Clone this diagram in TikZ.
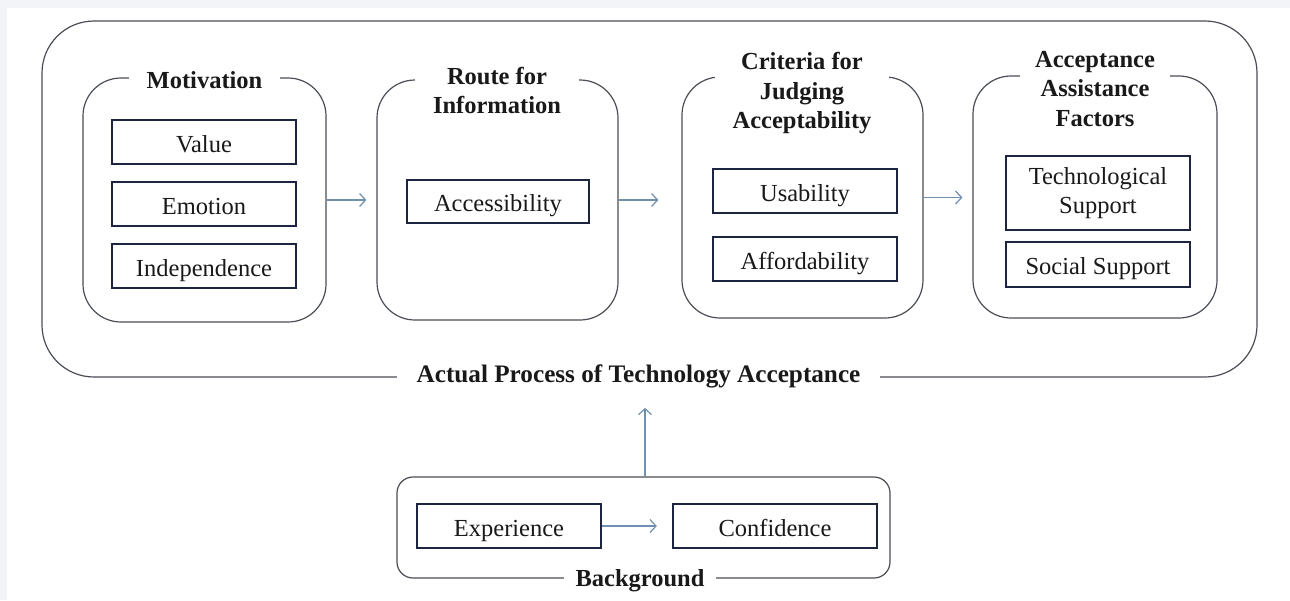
\documentclass[tikz,border=0pt]{standalone}
\usepackage{fontspec}
\setmainfont{Liberation Serif}
\usetikzlibrary{arrows.meta}
\definecolor{groupline}{HTML}{4A4E56}
\definecolor{itemline}{HTML}{1C2440}
\definecolor{flowline}{HTML}{7090B2}
\definecolor{pageedge}{HTML}{F2F4F7}
\newcommand{\diagfont}{\fontsize{24.5pt}{29.5pt}\selectfont}
\begin{document}
\begin{tikzpicture}[x=1pt,y=-1pt,
		every node/.style={font=\diagfont,text=black!90},
		group/.style={draw=groupline,line width=1.2pt,rounded corners=38pt,inner sep=0pt},
		item/.style={draw=itemline,line width=2.4pt,minimum width=184pt,minimum height=44pt,inner sep=0pt},
		oneline/.style={item,text height=24pt,text depth=4pt},
		head/.style={fill=white,font=\diagfont\bfseries,align=center,inner xsep=18pt,inner ysep=0pt},
		flow/.style={draw=flowline,line width=1.2pt,-{Straight Barb[length=6pt,width=13pt,line width=1.2pt]}}]
			\fill[pageedge] (0,0) rectangle (1290,600);
			\fill[white] (7,8) rectangle (1290,600);
			
			\node[group,rounded corners=52pt,minimum width=1215pt,minimum height=356pt] (process) at (649.5,199) {};
			\node[group,minimum width=243pt,minimum height=244pt] (motivation) at (204.5,200) {};
			\node[group,minimum width=241pt,minimum height=240pt] (route) at (497.5,200) {};
			\node[group,minimum width=241pt,minimum height=241pt] (criteria) at (802.5,197.5) {};
			\node[group,minimum width=244pt,minimum height=242pt] (assistance) at (1095,197) {};
			\node[group,rounded corners=16pt,minimum width=493pt,minimum height=101pt] (background) at (643.5,527.5) {};
			
			\node[head,inner xsep=20pt,font=\fontsize{25.2pt}{30pt}\selectfont\bfseries] (processhead) at (638.5,376) {Actual Process of Technology Acceptance};
			\node[head] (motivationhead) at (204.5,80) {Motivation};
			\node[head] (routehead) at (497,90.5) {Route for\\Information};
			\node[head] (criteriahead) at (802,93.5) {Criteria for\\Judging\\Acceptability};
			\node[head,inner xsep=15pt] (assistancehead) at (1095,89) {Acceptance\\Assistance\\Factors};
			\node[head,inner xsep=12pt] (backgroundhead) at (640,581) {Background};
			
			\node[oneline] (value) at (204,142) {Value};
			\node[oneline] (emotion) at (204,204) {Emotion};
			\node[oneline] (independence) at (204,266) {Independence};
			\node[oneline,minimum width=182pt,minimum height=43pt] (accessibility) at (498,201.5) {Accessibility};
			\node[oneline] (usability) at (805,191) {Usability};
			\node[oneline] (affordability) at (805,259) {Affordability};
			\node[item,align=center,minimum height=74pt] (techsupport) at (1098,193) {Technological\\Support};
			\node[oneline,minimum height=45pt] (socialsupport) at (1098,264.5) {Social Support};
			\node[oneline] (experience) at (509,526) {Experience};
			\node[oneline,minimum width=204pt] (confidence) at (775,526) {Confidence};
			
			\draw[flow] (motivation.east) -- ([xshift=-10pt]route.west |- motivation.east);
			\draw[flow] (route.east) -- ([xshift=-23pt]criteria.west |- route.east);
			\draw[flow] (criteria.east) -- ([xshift=-10pt]assistance.west |- criteria.east);
			\draw[flow] (experience.east) -- ([xshift=-15pt]confidence.west);
			\draw[flow,shorten >=20pt] ([xshift=1.5pt]background.north) -- ([xshift=1.5pt]background.north |- processhead.south);
		\end{tikzpicture}
\end{document}
